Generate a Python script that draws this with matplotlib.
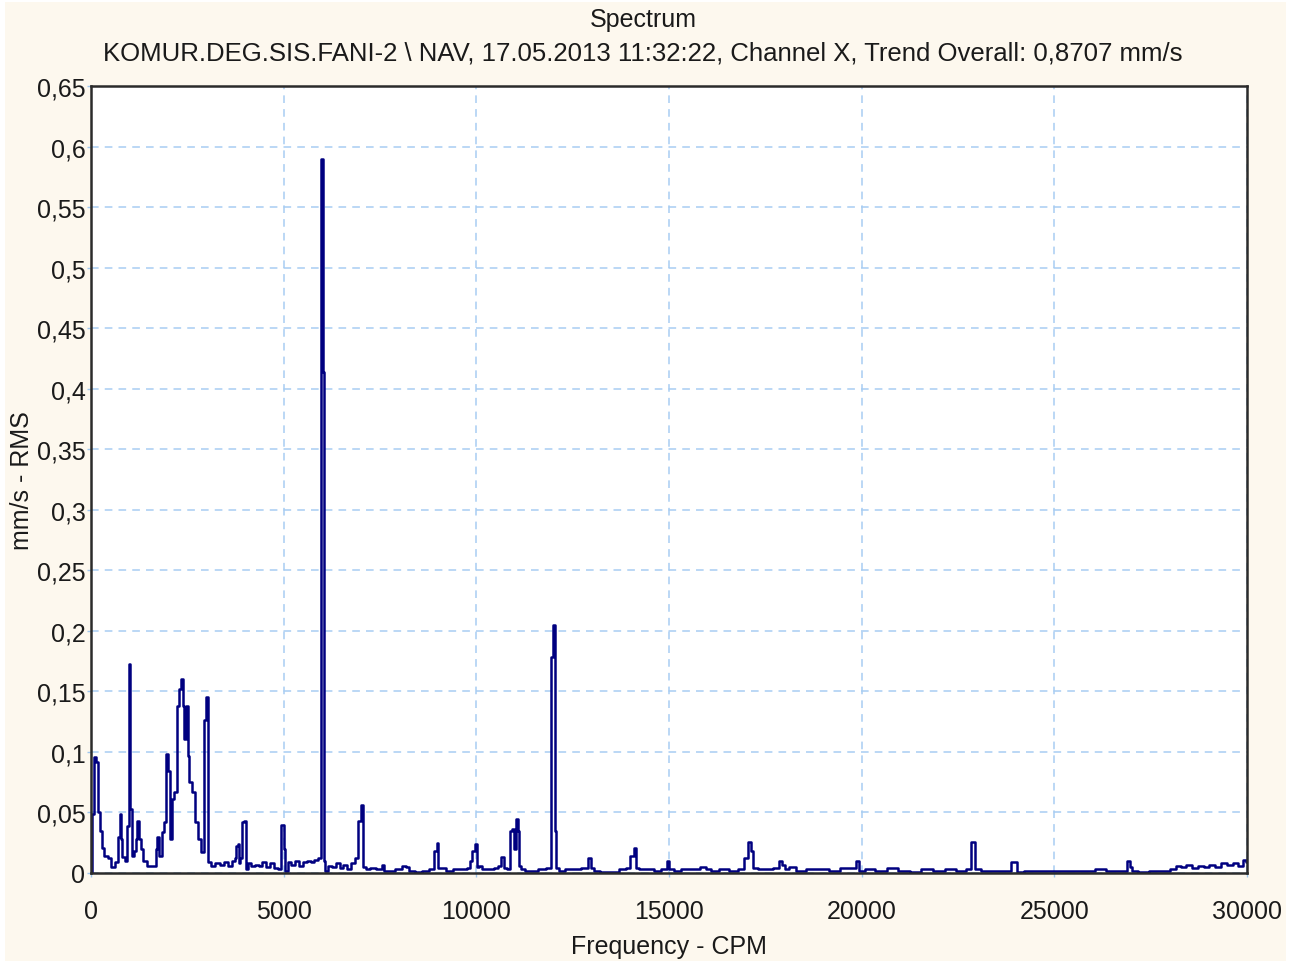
import numpy as np
import matplotlib
matplotlib.use("Agg")
import matplotlib.pyplot as plt
from matplotlib.patches import Rectangle

# spectrum: frequency (CPM) and amplitude (mm/s RMS)
freq = [0, 50, 100, 150, 230, 260, 310, 390, 490, 570, 650, 730, 755, 780, 830, 910,
        960, 1010, 1040, 1090, 1140, 1170, 1220, 1270, 1300, 1400, 1530, 1660, 1690,
        1740, 1790, 1870, 1920, 1970, 2020, 2075, 2130, 2180, 2260, 2310, 2360, 2410,
        2440, 2490, 2540, 2570, 2650, 2725, 2830, 2905, 2960, 3010, 3060, 3170, 3270,
        3400, 3500, 3600, 3700, 3760, 3790, 3815, 3850, 3900, 3940, 4010, 4050, 4100,
        4200, 4300, 4400, 4500, 4600, 4700, 4800, 4900, 4970, 5030, 5060, 5150, 5250,
        5350, 5450, 5550, 5650, 5750, 5850, 5950, 6000, 6030, 6060, 6100, 6200, 6300,
        6400, 6500, 6600, 6700, 6800, 6900, 6970, 7030, 7070, 7200, 7300, 7500, 7580,
        7650, 7800, 8000, 8150, 8200, 8300, 8500, 8700, 8850, 8950, 8990, 9040, 9100,
        9300, 9500, 9700, 9800, 9850, 9940, 9990, 10040, 10100, 10200, 10400, 10500,
        10600, 10700, 10750, 10830, 10900, 10960, 11000, 11050, 11090, 11130, 11200,
        11300, 11500, 11700, 11900, 11970, 12010, 12050, 12090, 12200, 12400, 12600,
        12850, 12960, 13000, 13100, 13300, 13600, 13800, 13950, 14050, 14110, 14160,
        14300, 14500, 14700, 14900, 14980, 15040, 15200, 15400, 15700, 15900, 16000,
        16200, 16400, 16700, 16900, 17000, 17100, 17150, 17200, 17400, 17600, 17800,
        17900, 17950, 18050, 18200, 18400, 18700, 19000, 19300, 19600, 19800, 19900,
        19960, 20200, 20500, 20800, 21100, 21400, 21700, 22000, 22300, 22600, 22800,
        22870, 22930, 22970, 23200, 23500, 23800, 23950, 24010, 24050, 24400, 24800,
        25200, 25600, 25900, 26200, 26500, 26800, 26950, 27000, 27050, 27300, 27600,
        27900, 28100, 28200, 28350, 28500, 28650, 28800, 28950, 29100, 29250, 29400,
        29550, 29700, 29850, 29950, 30000]
amp = [0.0, 0.049, 0.096, 0.092, 0.050, 0.035, 0.021, 0.014, 0.012, 0.005, 0.009, 0.030,
       0.049, 0.028, 0.013, 0.010, 0.039, 0.173, 0.053, 0.014, 0.018, 0.028, 0.043, 0.028,
       0.020, 0.010, 0.006, 0.006, 0.020, 0.030, 0.014, 0.034, 0.042, 0.098, 0.084, 0.028,
       0.061, 0.067, 0.138, 0.152, 0.160, 0.138, 0.111, 0.138, 0.097, 0.075, 0.067, 0.042,
       0.028, 0.017, 0.126, 0.145, 0.009, 0.006, 0.008,
       0.007, 0.009, 0.006, 0.010, 0.012, 0.022, 0.024, 0.008, 0.012, 0.042, 0.043, 0.003,
       0.008, 0.006, 0.007, 0.006, 0.009, 0.005, 0.008, 0.004, 0.003, 0.040, 0.020, 0.002,
       0.009, 0.007, 0.010, 0.006, 0.009, 0.010, 0.009, 0.011, 0.012, 0.590, 0.414, 0.010,
       0.002, 0.006, 0.005, 0.008, 0.004, 0.007, 0.003, 0.008, 0.012, 0.043, 0.056, 0.005,
       0.003, 0.004, 0.003, 0.007, 0.002, 0.002, 0.003, 0.006, 0.005, 0.002, 0.001, 0.002,
       0.003, 0.018, 0.025, 0.004, 0.004, 0.002, 0.003, 0.003, 0.004, 0.010, 0.018, 0.024,
       0.005, 0.006, 0.003, 0.003, 0.004, 0.006, 0.013, 0.004, 0.003, 0.035, 0.036, 0.020,
       0.045, 0.035, 0.006, 0.003,
       0.002, 0.002, 0.003, 0.004, 0.178, 0.205, 0.035, 0.004, 0.002, 0.003, 0.003, 0.004,
       0.012, 0.004, 0.002, 0.001, 0.001, 0.003, 0.004, 0.014, 0.021, 0.004, 0.003, 0.003,
       0.002, 0.003, 0.010, 0.003, 0.002, 0.003, 0.003, 0.005, 0.003,
       0.002, 0.003, 0.002, 0.003, 0.012, 0.026, 0.018, 0.004, 0.003, 0.003, 0.004, 0.010,
       0.007, 0.003, 0.005, 0.002, 0.003, 0.003, 0.002, 0.004, 0.004, 0.010, 0.002, 0.003,
       0.002, 0.004, 0.002, 0.001, 0.003, 0.002, 0.003, 0.002, 0.003, 0.026, 0.026, 0.003,
       0.002, 0.002, 0.002, 0.009, 0.009, 0.001, 0.002, 0.002, 0.002, 0.002, 0.002, 0.003,
       0.002, 0.002, 0.010, 0.005, 0.002, 0.001, 0.002, 0.002, 0.003, 0.006, 0.005, 0.007,
       0.004, 0.006, 0.005, 0.007, 0.005, 0.008, 0.007, 0.008, 0.006, 0.011, 0.009]

xticks = [0, 5000, 10000, 15000, 20000, 25000, 30000]
yticks = [0, 0.05, 0.1, 0.15, 0.2, 0.25, 0.3, 0.35, 0.4, 0.45, 0.5, 0.55, 0.6, 0.65]
ytick_labels = ["0", "0,05", "0,1", "0,15", "0,2", "0,25", "0,3", "0,35", "0,4",
                "0,45", "0,5", "0,55", "0,6", "0,65"]

title1 = "Spectrum"
title2 = ("KOMUR.DEG.SIS.FANI-2 \\ NAV, 17.05.2013 11:32:22, Channel X, "
          "Trend Overall: 0,8707 mm/s")

plt.rcParams['font.family'] = ['Liberation Sans', 'DejaVu Sans']
txt = '#1a1a1a'

fig = plt.figure(figsize=(12.94, 9.62), dpi=100, facecolor='white')
# cream panel behind everything
fig.patches.append(Rectangle((5 / 1294, 0), 1281 / 1294, 959 / 962,
                             transform=fig.transFigure, facecolor='#fdf8ee',
                             edgecolor='none', zorder=-10))

ax = fig.add_axes([91 / 1294, 88 / 962, 1156 / 1294, 787 / 962], zorder=2)
ax.set_facecolor('white')
ax.plot(freq, amp, color='#000080', lw=1.8, drawstyle='steps-mid')

ax.set_xlim(0, 30000)
ax.set_ylim(0, 0.65)
ax.set_xticks(xticks)
ax.set_xticklabels([str(t) for t in xticks])
ax.set_yticks(yticks)
ax.set_yticklabels(ytick_labels)
ax.tick_params(axis='both', labelsize=18, colors='#9ec6ee', labelcolor=txt,
               length=3, width=1)
ax.tick_params(axis='x', pad=16)
ax.tick_params(axis='y', pad=1)

ax.grid(True, color='#a8cdf2', linestyle=(0, (5, 4)), linewidth=1.1)
for s in ax.spines.values():
    s.set_color('#2b2b2b')
    s.set_linewidth(1.8)

ax.set_xlabel("Frequency - CPM", fontsize=18, color=txt, labelpad=8)
ax.set_ylabel("mm/s - RMS", fontsize=18, color=txt, labelpad=2)

fig.text(0.497, 1 - 20 / 962, title1, ha='center', va='center', fontsize=18, color=txt)
fig.text(0.497, 1 - 54 / 962, title2, ha='center', va='center', fontsize=18.5, color=txt)

fig.savefig("out.png", dpi=100, facecolor=fig.get_facecolor())
